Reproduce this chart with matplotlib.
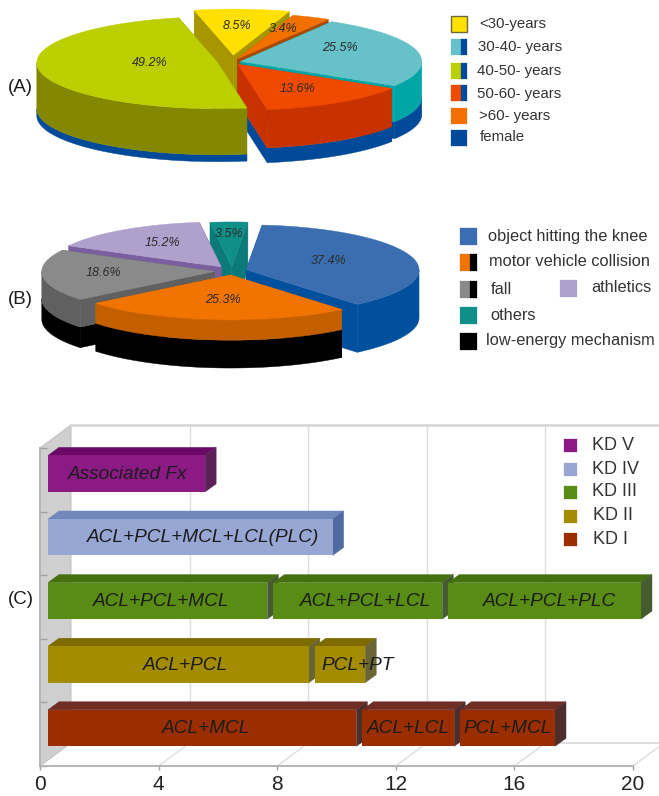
import numpy as np
import matplotlib

matplotlib.use("Agg")
import matplotlib.pyplot as plt
from matplotlib.patches import Polygon, Rectangle

plt.rcParams["font.family"] = ["Liberation Sans", "DejaVu Sans"]

# panel A: age groups
age_values = [49.2, 13.6, 25.5, 3.4, 8.5]
age_female = [0.13, 0.28, 0.32, 0.0, 0.0]
# panel B: injury mechanism
mech_values = [37.4, 3.5, 15.2, 18.6, 25.3]
mech_low_energy = [0.0, 0.0, 0.0, 0.43, 0.58]
# panel C: counts per KD grade, bottom row first
kd_names = ["KD I", "KD II", "KD III", "KD IV", "KD V"]
kd_values = [[10.6, 3.3, 3.4], [9.0, 1.9], [7.6, 5.9, 6.7], [9.8], [5.5]]
kd_labels = [["ACL+MCL", "ACL+LCL", "PCL+MCL"],
             ["ACL+PCL", "PCL+PT"],
             ["ACL+PCL+MCL", "ACL+PCL+LCL", "ACL+PCL+PLC"],
             ["ACL+PCL+MCL+LCL(PLC)"],
             ["Associated Fx"]]
x_ticks = [0, 4, 8, 12, 16, 20]

# styles and layout (pixels for the page axes)
W, H = 659, 796
age_top = ["#bccf00", "#f04a00", "#66c2c8", "#f27000", "#ffe000"]
age_side = ["#838800", "#c83200", "#00a5a5", "#a84a00", "#a89600"]
age_explode = [0.08, 0.06, 0.05, 0.07, 0.15]
age_order = [4, 3, 2, 1, 0]
age_text = [(150, 63), (297, 89), (340, 48), (283, 29), (237, 26)]
mech_top = ["#3a6eb0", "#0f8f88", "#b0a0cc", "#8a8a8a", "#f27400"]
mech_side = ["#00509e", "#0b7a78", "#7a5fa0", "#606060", "#c45f00"]
mech_explode = [0.085, 0.09, 0.11, 0.10, 0.09]
mech_order = [1, 2, 0, 3, 4]
mech_text = [(329, 261), (229, 234), (162, 243), (103, 273), (223, 300)]
kd_front = ["#9a2e00", "#a38c00", "#588c14", "#98a6d4", "#8b1a84"]
kd_upper = ["#6f2d24", "#7d6b00", "#44700f", "#7088bc", "#6a0a66"]
kd_end = ["#4d2e2c", "#6b6535", "#465c30", "#4f6aa0", "#5c2058"]
kd_text_shift = [[0.13, 0.0, 0.0], [0.24, 0.6], [0.13, 0.27, 0.17], [0.44], [0.03]]
TEXT = "#2b2b2b"


def ell(cx, cy, rx, ry, deg):
    a = np.radians(deg)
    return cx + rx * np.cos(a), cy - ry * np.sin(a)


def face(ax, xs, ys, color):
    ax.add_patch(Polygon(np.column_stack([xs, ys]), closed=True, facecolor=color,
                         edgecolor=color, linewidth=0.3))


def wall_layers(ax, x0, y0, x1, y1, depth, split, color, under):
    # flat inner face of a slice, base colour below the split
    if split > 0:
        d = depth * (1 - split)
        face(ax, [x0, x1, x1, x0], [y0 + d, y1 + d, y1 + depth, y0 + depth], under)
    d = depth * (1 - split)
    face(ax, [x0, x1, x1, x0], [y0, y1, y1 + d, y0 + d], color)


def pie3d(ax, values, start, cx, cy, rx, ry, depth, explode, split, top, side, under, order):
    values = np.array(values)
    ang = 360 * values / values.sum()
    starts = start + np.concatenate([[0], np.cumsum(ang)[:-1]])
    for i in order:
        a1, a2 = starts[i], starts[i] + ang[i]
        mid = (a1 + a2) / 2
        x0, y0 = ell(cx, cy, rx * explode[i], ry * explode[i], mid)
        # rear inner face first, the one nearer the viewer over it
        for a in sorted((a1, a2), key=lambda d: -np.sin(np.radians(d))):
            px, py = ell(x0, y0, rx, ry, a)
            wall_layers(ax, x0, y0, px, py, depth, split[i], side[i], under)
        t = np.linspace(a1, a2, 160)
        fx, fy = ell(x0, y0, rx, ry, t)
        front = np.sin(np.radians(t)) <= 0
        if front.any():
            ox, oy = fx[front], fy[front]
            d = depth * (1 - split[i])
            if split[i] > 0:
                face(ax, np.r_[ox, ox[::-1]], np.r_[oy + d, oy[::-1] + depth], under)
            face(ax, np.r_[ox, ox[::-1]], np.r_[oy, oy[::-1] + d], side[i])
        face(ax, np.r_[x0, fx], np.r_[y0, fy], top[i])


def swatch(ax, x, y, w, colors, edge=None):
    # colours share the box side by side
    n = len(colors)
    for k, c in enumerate(colors):
        ax.add_patch(Rectangle((x + k * w * 0.6, y - w / 2), w if n == 1 else w * (0.6 if k == 0 else 0.4), w,
                               facecolor=c, edgecolor=edge if edge else c, linewidth=1.0 if edge else 0.2))


fig = plt.figure(figsize=(W / 100, H / 100), dpi=100)

# panel C on real value axes
left, right, floor, roof = 40, 633, 766, 448
ax_bar = fig.add_axes([left / W, (H - floor) / H, (right - left) / W, (floor - roof) / H])
ax_bar.set_xlim(0, 20)
ax_bar.set_ylim(0, 5)
ax_bar.patch.set_alpha(0)
xu, yu = (right - left) / 20, (floor - roof) / 5
dx, dy = 31 / xu, 23 / yu

ax_bar.add_patch(Polygon([(0, 0), (dx, dy), (dx, 5 + dy), (0, 5)], closed=True,
                         facecolor="#cfcfcf", edgecolor="#c4c4c4", linewidth=0.8, clip_on=False))
for v in x_ticks[1:]:
    ax_bar.plot([v + dx, v + dx], [dy, 5 + dy], color="#dddddd", lw=1, clip_on=False, zorder=1)
    ax_bar.plot([v, v + dx], [0, dy], color="#dddddd", lw=1, clip_on=False, zorder=1)
ax_bar.plot([dx, 21], [dy, dy], color="#d8d8d8", lw=1.2, clip_on=False, zorder=1)
ax_bar.plot([dx, 21], [5 + dy, 5 + dy], color="#d8d8d8", lw=2, clip_on=False, zorder=1)

off_x, off_y, bar_h, gap = 8 / xu, 0.31, 36.5 / yu, 0.2
top_x, top_y = 11 / xu, 8 / yu
for row in range(4, -1, -1):
    base = off_x
    y = row + off_y
    for j, v in enumerate(kd_values[row]):
        w = v - gap
        ax_bar.add_patch(Polygon([(base, y + bar_h), (base + top_x, y + bar_h + top_y),
                                  (base + w + top_x, y + bar_h + top_y), (base + w, y + bar_h)],
                                 closed=True, color=kd_upper[row], lw=0.3, zorder=3, clip_on=False))
        ax_bar.add_patch(Polygon([(base + w, y), (base + w + top_x, y + top_y),
                                  (base + w + top_x, y + bar_h + top_y), (base + w, y + bar_h)],
                                 closed=True, color=kd_end[row], lw=0.3, zorder=3, clip_on=False))
        ax_bar.barh(y + bar_h / 2, w, height=bar_h, left=base, color=kd_front[row],
                    zorder=3, clip_on=False)
        ax_bar.text(base + w / 2 + kd_text_shift[row][j], y + bar_h / 2 - 0.01, kd_labels[row][j],
                    ha="center", va="center", style="italic", fontsize=13.7, color="#1c1c1c", zorder=5)
        base += v

ax_bar.set_xticks(x_ticks)
ax_bar.set_yticks(range(6))
ax_bar.set_yticklabels([])
ax_bar.tick_params(axis="x", direction="out", length=3, width=1, color="#a0a0a0",
                   labelsize=15, pad=3.5, labelcolor="#222222")
ax_bar.tick_params(axis="y", direction="in", length=5, width=1, color="#a0a0a0")
for s in ("top", "right"):
    ax_bar.spines[s].set_visible(False)
for s in ("left", "bottom"):
    ax_bar.spines[s].set_color("#b4b4b4")
    ax_bar.spines[s].set_linewidth(1.4)

# page axes in pixels for the two pies, legends and panel letters
ax = fig.add_axes([0, 0, 1, 1])
ax.set_xlim(0, W)
ax.set_ylim(H, 0)
ax.axis("off")
ax.set_zorder(3)

pie3d(ax, age_values, 102.5, 232, 62, 181, 46, 53, age_explode, age_female,
      age_top, age_side, "#004a99", age_order)
for v, (tx, ty) in zip(age_values, age_text):
    ax.text(tx, ty, "%.1f%%" % v, ha="center", va="center", style="italic", fontsize=9, color=TEXT)

pie3d(ax, mech_values, -50, 232, 271, 173, 45, 48, mech_explode, mech_low_energy,
      mech_top, mech_side, "#000000", mech_order)
for v, (tx, ty) in zip(mech_values, mech_text):
    ax.text(tx, ty, "%.1f%%" % v, ha="center", va="center", style="italic", fontsize=9, color=TEXT)

for lab, ty in zip(["(A)", "(B)", "(C)"], [87, 299, 600]):
    ax.text(8, ty, lab, ha="left", va="center", fontsize=13.5, color="#1c1c1c")

# age legend
age_legend = [("<30-years", ["#ffe000"], 479, 24, 24),
              ("30-40- years", ["#66c2c8", "#004a99"], 478, 47, 47),
              ("40-50- years", ["#bccf00", "#004a99"], 477, 71, 71),
              ("50-60- years", ["#f04a00", "#004a99"], 477, 94, 93),
              (">60- years", ["#f27000"], 479, 116, 116),
              ("female", ["#004a99"], 480, 137, 138)]
for lab, cols, tx, ty, sy in age_legend:
    swatch(ax, 451, sy, 16, cols, edge="#6b6b3a" if lab == "<30-years" else None)
    ax.text(tx, ty, lab, ha="left", va="center", fontsize=10.8, color="#333333")

# mechanism legend
mech_legend = [("object hitting the knee", ["#3a6eb0"], 460, 488, 236),
               ("motor vehicle collision", ["#f27400", "#000000"], 460, 489, 262),
               ("fall", ["#8a8a8a", "#000000"], 460, 491, 289),
               ("athletics", ["#b0a0cc"], 560, 591, 288),
               ("others", ["#0f8f88"], 460, 490, 315),
               ("low-energy mechanism", ["#000000"], 460, 486, 341)]
for lab, cols, sx, tx, ty in mech_legend:
    swatch(ax, sx, ty, 17, cols)
    ax.text(tx, ty, lab, ha="left", va="center", fontsize=11.8, color="#333333")

# KD legend, top grade first
for k, ty in enumerate([445, 469, 492, 516, 539]):
    row = 4 - k
    swatch(ax, 564, ty, 13, [kd_front[row]])
    ax.text(592 if row > 1 else 593, ty, kd_names[row], ha="left", va="center", fontsize=13, color="#333333")

fig.savefig("out.png", dpi=100)
